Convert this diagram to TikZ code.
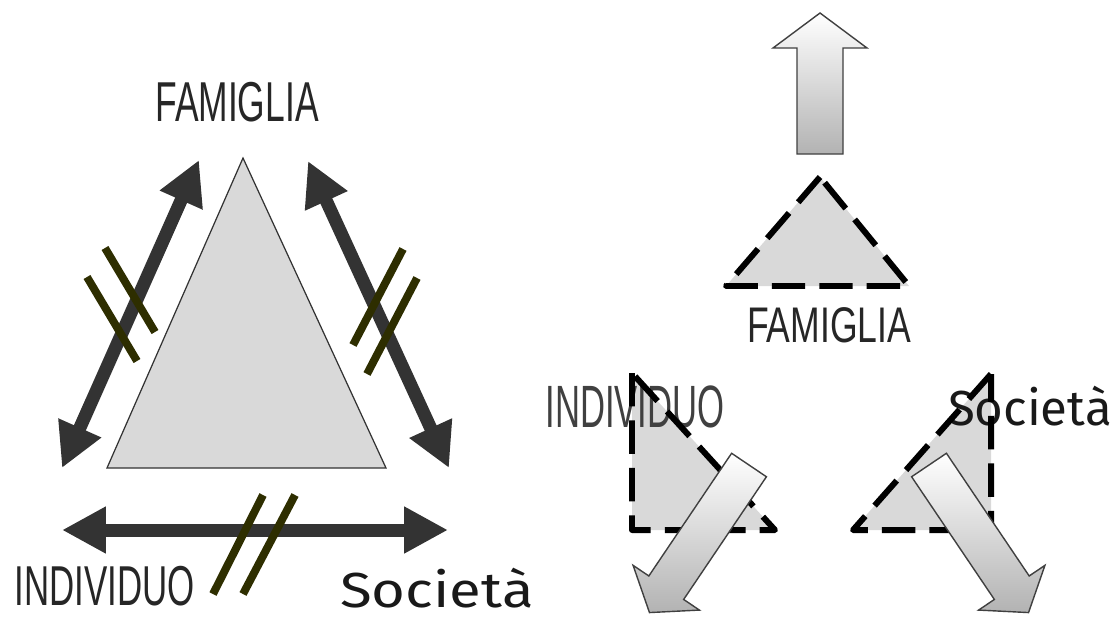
\documentclass[tikz,border=0pt]{standalone}
\usepackage{fontspec}
\setmainfont{Liberation Sans}
\newfontfamily\handfont{Liberation Sans}
\newfontfamily\comicfont{Fira Sans}
\usetikzlibrary{arrows.meta}
\definecolor{arrowgray}{HTML}{333333}
\definecolor{cutcol}{HTML}{2E2E00}
\definecolor{trigray}{HTML}{D9D9D9}
\tikzset{
  biarrow/.style={draw=arrowgray, line width=7.4pt,
    {Triangle[length=25pt,width=25pt]}-{Triangle[length=25pt,width=25pt]}},
  cutmark/.style={draw=cutcol, line width=4.5pt},
  dashtri/.style={draw=black, line width=3.4pt, dash pattern=on 19pt off 8pt},
  capslabel/.style={font=\handfont\fontsize{32}{32}\selectfont, text=black!85, inner sep=0pt},
  comiclabel/.style={font=\comicfont\fontsize{28}{28}\selectfont, text=black!90, inner sep=0pt},
  blockarrow/.style={draw=black!75, line width=0.8pt, top color=white, bottom color=black!30},
}
\begin{document}
\begin{tikzpicture}[x=0.02cm, y=-0.02cm]
    \useasboundingbox (0,0) rectangle (1118,623);

    % Left: the big triangle
    \coordinate (triTop) at (243,158);
    \coordinate (triLeft) at (107,468);
    \coordinate (triRight) at (386,468);
    \filldraw[fill=trigray, draw=black!80, line width=0.7pt] (triTop) -- (triLeft) -- (triRight) -- cycle;

    % Double arrows between the three
    \coordinate (famA) at (199,160);
    \coordinate (indA) at (62,468);
    \coordinate (famB) at (308,161);
    \coordinate (socB) at (449,468);
    \coordinate (indC) at (62,530);
    \coordinate (socC) at (448,530);
    \draw[biarrow] (indA) -- (famA);
    \draw[biarrow] (socB) -- (famB);
    \draw[biarrow] (indC) -- (socC);

    % Broken links
    \draw[cutmark] (105,248) -- (155,332);
    \draw[cutmark] (87,277) -- (137,361);
    \draw[cutmark] (403,249) -- (353,345);
    \draw[cutmark] (417,278) -- (367,374);
    \draw[cutmark] (263,495) -- (213,594);
    \draw[cutmark] (295,495) -- (243,594);

    % Labels
    \node[capslabel, xscale=0.63] (famL) at (237,102) {FAMIGLIA};
    \node[capslabel, xscale=0.62] (indL) at (105,586) {INDIVIDUO};
    \node[comiclabel, xscale=1.18] (socL) at (437,588) {Società};

    % Right: the three dashed triangles
    \coordinate (fTop) at (820,177);
    \coordinate (fLeft) at (726,286);
    \coordinate (fRight) at (909,286);
    \coordinate (iTop) at (632,373);
    \coordinate (iLeft) at (632,530);
    \coordinate (iRight) at (775,530);
    \coordinate (sTop) at (991,374);
    \coordinate (sLeft) at (853,530);
    \coordinate (sRight) at (991,530);
    \fill[trigray] (fTop) -- (fLeft) -- (fRight) -- cycle;
    \fill[trigray] (iTop) -- (iLeft) -- (iRight) -- cycle;
    \fill[trigray] (sTop) -- (sLeft) -- (sRight) -- cycle;

    \node[capslabel, xscale=0.71, font=\handfont\fontsize{28.5}{28.5}\selectfont] (famR) at (829,325) {FAMIGLIA};
    \node[capslabel, xscale=0.58, font=\handfont\fontsize{34}{34}\selectfont, text=black!75] (indR) at (635,407) {INDIVIDUO};
    \node[comiclabel] (socR) at (1030,406) {Società};

    \draw[dashtri, line join=round] (fTop) -- (fLeft) -- (fRight) -- cycle;
    \draw[dashtri, line join=round] (iTop) -- (iLeft) -- (iRight) -- cycle;
    \draw[dashtri, line join=round] (sTop) -- (sLeft) -- (sRight) -- cycle;

    % Block arrows
    \begin{scope}[shift={(820,154)}, rotate=90]
        \shade[blockarrow] (0,-23) -- (106,-23) -- (106,-47) -- (141,0) -- (106,47) -- (106,23) -- (0,23) -- cycle;
    \end{scope}
    \begin{scope}[shift={(749,465)}, rotate=-124]
        \shade[blockarrow] (0,-21) -- (148,-21) -- (148,-40) -- (178,0) -- (148,40) -- (148,21) -- (0,21) -- cycle;
    \end{scope}
    \begin{scope}[shift={(929,465)}, rotate=-56]
        \shade[blockarrow] (0,-21) -- (148,-21) -- (148,-40) -- (178,0) -- (148,40) -- (148,21) -- (0,21) -- cycle;
    \end{scope}
\end{tikzpicture}
\end{document}
